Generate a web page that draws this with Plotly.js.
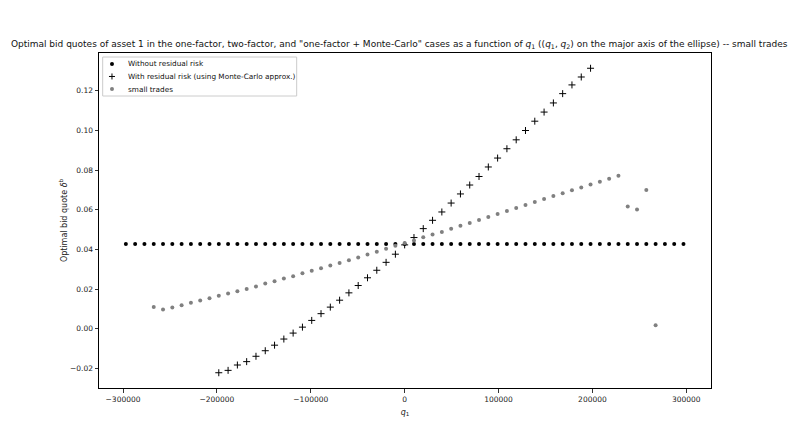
<!DOCTYPE html>
<html>
<head>
<meta charset="utf-8">
<script src="https://cdn.plot.ly/plotly-3.0.1.min.js"></script>
<style>
  html, body { margin: 0; padding: 0; background: #fff; }
  #chart { width: 789px; height: 444px; }
</style>
</head>
<body>
<div id="chart"></div>
<script>
// q1 grid on the major axis (step 9900)
var q1Grid = [
  -297000, -287100, -277200, -267300, -257400, -247500, -237600, -227700, -217800, -207900,
  -198000, -188100, -178200, -168300, -158400, -148500, -138600, -128700, -118800, -108900,
  -99000, -89100, -79200, -69300, -59400, -49500, -39600, -29700, -19800, -9900,
  0,
  9900, 19800, 29700, 39600, 49500, 59400, 69300, 79200, 89100, 99000,
  108900, 118800, 128700, 138600, 148500, 158400, 168300, 178200, 188100, 198000,
  207900, 217800, 227700, 237600, 247500, 257400, 267300, 277200, 287100, 297000
];

// Without residual risk (all 61 grid points)
var noResidual = [
  0.0428, 0.0428, 0.0428, 0.0428, 0.0428, 0.0428, 0.0428, 0.0428, 0.0428, 0.0428,
  0.0428, 0.0428, 0.0428, 0.0428, 0.0428, 0.0428, 0.0428, 0.0428, 0.0428, 0.0428,
  0.0428, 0.0428, 0.0428, 0.0428, 0.0428, 0.0428, 0.0428, 0.0428, 0.0428, 0.0428,
  0.0428,
  0.0428, 0.0428, 0.0428, 0.0428, 0.0428, 0.0428, 0.0428, 0.0428, 0.0428, 0.0428,
  0.0428, 0.0428, 0.0428, 0.0428, 0.0428, 0.0428, 0.0428, 0.0428, 0.0428, 0.0428,
  0.0428, 0.0428, 0.0428, 0.0428, 0.0428, 0.0428, 0.0428, 0.0428, 0.0428, 0.0428
];

// With residual risk, Monte-Carlo (q1 from -198000 to 198000)
var q1MonteCarlo = q1Grid.slice(10, 51);
var monteCarlo = [
  -0.0222, -0.0210, -0.0183, -0.0166, -0.0139, -0.0111, -0.0083, -0.0052, -0.0022, 0.0008,
  0.0042, 0.0076, 0.0109, 0.0144, 0.0181, 0.0218, 0.0257, 0.0295, 0.0335, 0.0376,
  0.0423,
  0.0460, 0.0505, 0.0547, 0.0589, 0.0634, 0.0680, 0.0725, 0.0768, 0.0816, 0.0861,
  0.0908, 0.0953, 0.1000, 0.1047, 0.1093, 0.1139, 0.1186, 0.1230, 0.1270, 0.1314
];

// small trades (q1 from -267300 to 267300)
var q1Small = q1Grid.slice(3, 58);
var smallTrades = [
  0.0109, 0.0097, 0.0107, 0.0119, 0.0131, 0.0142, 0.0154, 0.0166, 0.0178, 0.0189,
  0.0201, 0.0213, 0.0228, 0.0240, 0.0253, 0.0265, 0.0280, 0.0292, 0.0305, 0.0319,
  0.0332, 0.0345, 0.0359, 0.0374, 0.0388, 0.0403, 0.0419,
  0.0433,
  0.0445, 0.0461, 0.0475, 0.0488, 0.0505, 0.0519, 0.0534, 0.0549, 0.0564, 0.0579,
  0.0594, 0.0609, 0.0624, 0.0639, 0.0655, 0.0670, 0.0683, 0.0698, 0.0713, 0.0728,
  0.0742, 0.0757, 0.0772, 0.0617, 0.0602, 0.0700, 0.0018
];

var legendLabels = ['Without residual risk', 'With residual risk (using Monte-Carlo approx.)', 'small trades'];

var FONT = 'DejaVu Sans, sans-serif';

var traces = [
  {
    x: q1Grid, y: noResidual, mode: 'markers', name: legendLabels[0],
    marker: { symbol: 'circle', size: 4, color: 'black' }
  },
  {
    x: q1MonteCarlo, y: monteCarlo, mode: 'markers', name: legendLabels[1],
    marker: { symbol: 'cross-thin', size: 5, color: 'black', line: { color: 'black', width: 1 } }
  },
  {
    x: q1Small, y: smallTrades, mode: 'markers', name: legendLabels[2],
    marker: { symbol: 'circle', size: 4, color: 'gray' }
  }
];

// hand-made compact legend (matplotlib style), paper coordinates
var rowY = [0.9672, 0.9299, 0.8925];
var symX = 0.0212, textX = 0.0441;
var shapes = [
  { type: 'rect', xref: 'paper', yref: 'paper', x0: 0.006, x1: 0.323, y0: 0.8716, y1: 0.988,
    line: { color: '#cccccc', width: 1 }, fillcolor: 'rgba(255,255,255,0.8)', layer: 'above' },
  // dot
  { type: 'circle', xref: 'paper', yref: 'paper', xsizemode: 'pixel', ysizemode: 'pixel',
    xanchor: symX, yanchor: rowY[0], x0: -2, x1: 2, y0: -2, y1: 2,
    fillcolor: 'black', line: { width: 0 }, layer: 'above' },
  // plus
  { type: 'line', xref: 'paper', yref: 'paper', xsizemode: 'pixel', ysizemode: 'pixel',
    xanchor: symX, yanchor: rowY[1], x0: -3, x1: 3, y0: 0, y1: 0,
    line: { color: 'black', width: 1 }, layer: 'above' },
  { type: 'line', xref: 'paper', yref: 'paper', xsizemode: 'pixel', ysizemode: 'pixel',
    xanchor: symX, yanchor: rowY[1], x0: 0, x1: 0, y0: -3, y1: 3,
    line: { color: 'black', width: 1 }, layer: 'above' },
  // gray dot
  { type: 'circle', xref: 'paper', yref: 'paper', xsizemode: 'pixel', ysizemode: 'pixel',
    xanchor: symX, yanchor: rowY[2], x0: -2, x1: 2, y0: -2, y1: 2,
    fillcolor: 'gray', line: { width: 0 }, layer: 'above' }
];

var annotations = legendLabels.map(function (t, i) {
  return {
    text: t, xref: 'paper', yref: 'paper', x: textX, y: rowY[i],
    xanchor: 'left', yanchor: 'middle', showarrow: false,
    font: { family: FONT, size: 7.3, color: '#111' }
  };
});

var axisStyle = {
  showline: true, linecolor: 'black', linewidth: 1, mirror: true,
  ticks: 'outside', ticklen: 3.5, tickwidth: 0.8, tickcolor: 'black',
  showgrid: false, zeroline: false,
  tickfont: { family: FONT, size: 7.5, color: '#222' }
};

var layout = {
  width: 789, height: 444,
  margin: { l: 99, r: 78, t: 53, b: 56 },
  paper_bgcolor: 'white', plot_bgcolor: 'white',
  font: { family: FONT, size: 8, color: '#222' },
  showlegend: false,
  title: {
    text: 'Optimal bid quotes of asset 1 in the one-factor, two-factor, and "one-factor + Monte-Carlo" cases as a function of <i>q</i><sub>1</sub> ((<i>q</i><sub>1</sub>, <i>q</i><sub>2</sub>) on the major axis of the ellipse) -- small trades',
    font: { family: FONT, size: 9, color: '#111' },
    x: 0.506, xref: 'container', xanchor: 'center',
    y: 1 - 44 / 444, yref: 'container', yanchor: 'middle'
  },
  xaxis: Object.assign({}, axisStyle, {
    range: [-325600, 326300],
    tickmode: 'linear', tick0: 0, dtick: 100000, tickformat: 'd',
    title: { text: '<i>q</i><sub>1</sub>', font: { family: FONT, size: 8 }, standoff: 6 }
  }),
  yaxis: Object.assign({}, axisStyle, {
    range: [-0.0299, 0.1391],
    tickmode: 'linear', tick0: 0, dtick: 0.02, tickformat: '.2f',
    title: { text: 'Optimal bid quote <i>δ</i><sup>b</sup>', font: { family: FONT, size: 8 }, standoff: 1 }
  }),
  shapes: shapes,
  annotations: annotations
};

Plotly.newPlot('chart', traces, layout, { displayModeBar: false, staticPlot: true });
</script>
</body>
</html>
